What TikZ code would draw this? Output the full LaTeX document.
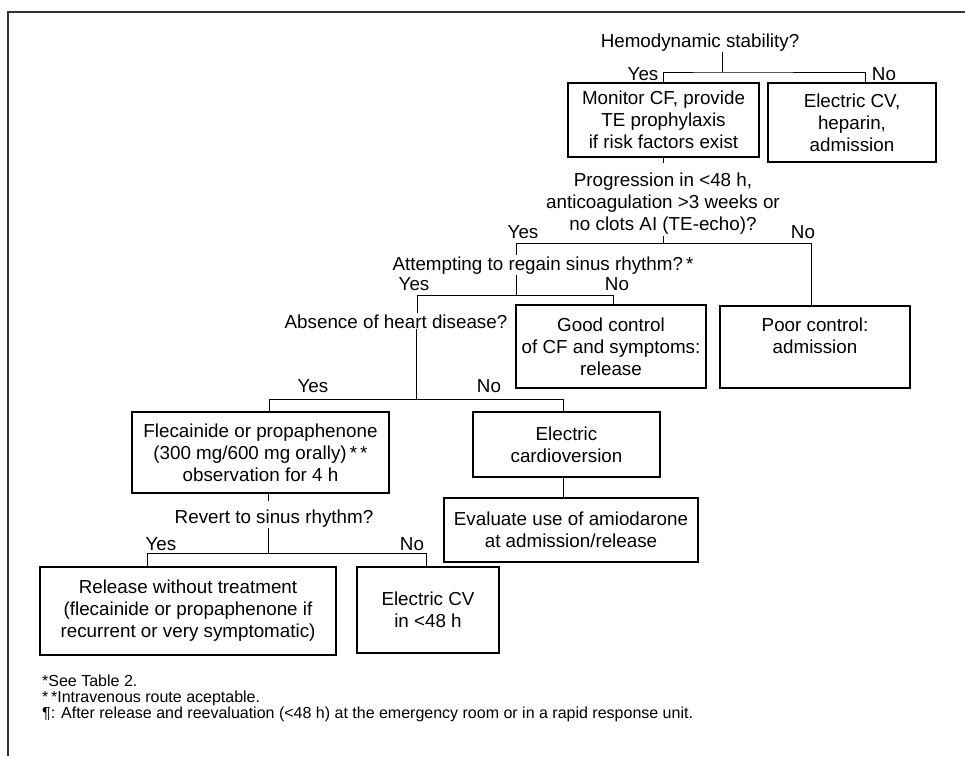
\documentclass[tikz,border=0pt]{standalone}
\usepackage{fontspec}
\setmainfont{Liberation Sans}

\begin{document}
\begin{tikzpicture}[x=1pt, y=-1pt,
    box/.style={rectangle, draw, line width=1.2pt, align=center, inner sep=2pt, font=\fontsize{18.8}{22}\selectfont},
    ask/.style={align=center, inner sep=1pt, font=\fontsize{18.8}{22}\selectfont},
    lbl/.style={inner sep=0pt, anchor=base, font=\fontsize{18.8}{22}\selectfont},
    link/.style={line width=1pt}]
    \useasboundingbox (0,0) rectangle (965,756);
    \draw[line width=1.4pt, black!80] (8,756) -- (8,12) -- (965,12);

    % first question
    \node (stab) [ask, anchor=base] at (700,47) {Hemodynamic stability?};
    \node (stabY) [lbl] at (643,80) {Yes};
    \node (stabN) [lbl] at (884,80) {No};
    \node (mon) [box, minimum width=191, minimum height=74] at (663.5,120) {Monitor CF, provide\\TE prophylaxis\\if risk factors exist};
    \node (ecv) [box, minimum width=168, minimum height=79] at (852,122.5) {Electric CV,\\heparin,\\admission};

    % second question
    \node (prog) [ask] at (663,204) {Progression in <48 h,\\anticoagulation >3 weeks or\\no clots AI (TE-echo)?};
    \node (progY) [lbl] at (523,238) {Yes};
    \node (progN) [lbl] at (803,238) {No};
    \node (att) [ask, anchor=base] at (543,270) {Attempting to regain sinus rhythm?\,*};
    \node (poor) [box, minimum width=190, minimum height=82] at (815,347) {Poor control:\\admission\\~};

    % third question
    \node (attY) [lbl] at (414,290) {Yes};
    \node (attN) [lbl] at (617,290) {No};
    \node (abs) [ask, anchor=base] at (396,328) {Absence of heart disease?};
    \node (good) [box, minimum width=190, minimum height=83] at (611,346.5) {Good control\\of CF and symptoms:\\release};

    % fourth question
    \node (absY) [lbl] at (313,392) {Yes};
    \node (absN) [lbl] at (489,392) {No};
    \node (flec) [box, minimum width=257, minimum height=81] at (260.5,452.5) {Flecainide or propaphenone\\(300 mg/600 mg orally)\,*\,*\\observation for 4 h};
    \node (card) [box, minimum width=187, minimum height=65] at (566.5,444.5) {Electric\\cardioversion};
    \node (amio) [box, minimum width=254, minimum height=64] at (571,530) {Evaluate use of amiodarone\\at admission/release};

    % last question
    \node (rev) [ask, anchor=base] at (274,523) {Revert to sinus rhythm?};
    \node (revY) [lbl] at (161,550) {Yes};
    \node (revN) [lbl] at (412,550) {No};
    \node (rel) [box, minimum width=296, minimum height=88] at (188,611) {Release without treatment\\(flecainide or propaphenone if\\recurrent or very symptomatic)};
    \node (ecvb) [box, minimum width=142, minimum height=86] at (428,610) {Electric CV\\in <48 h};

    \node (notes) [align=left, inner sep=0pt, anchor=north west, font=\fontsize{16}{16}\selectfont] at (42,675) {*See Table 2.\\*\,*Intravenous route aceptable.\\¶: After release and reevaluation (<48 h) at the emergency room or in a rapid response unit.};

    % junctions
    \coordinate (s0) at (722,72);
    \coordinate (s1) at (865,72);
    \coordinate (m1) at (663.5,163);
    \coordinate (p0) at (663,243);
    \coordinate (p1) at (811,243);
    \coordinate (p2) at (516,243);
    \coordinate (a0) at (516,295);
    \coordinate (a1) at (417,295);
    \coordinate (a2) at (613,295);
    \coordinate (h0) at (416,399);
    \coordinate (h1) at (269,399);
    \coordinate (h2) at (563,399);
    \coordinate (f1) at (268,501);
    \coordinate (r0) at (268,553);
    \coordinate (r1) at (147,553);
    \coordinate (r2) at (426,553);

    \draw[link] (stab.south -| s0) -- (s0);
    \draw[link] (mon.north) |- (s0) -| (s1 |- ecv.north);
    \draw[link] (mon.south) -- (m1);
    \draw[link] (prog.south -| p0) -- (p0);
    \draw[link] (att.north -| p2) -- (p2) -- (p1) -- (p1 |- poor.north);
    \draw[link] (att.south -| a0) -- (a0);
    \draw[link] (abs.north -| a1) -- (a1) -- (a2) -- (a2 |- good.north);
    \draw[link] (abs.south -| h0) -- (h0);
    \draw[link] (flec.north -| h1) -- (h1) -- (h2) -- (h2 |- card.north);
    \draw[link] (card.south -| h2) -- (h2 |- amio.north);
    \draw[link] (flec.south -| f1) -- (f1);
    \draw[link] (rev.south -| r0) -- (r0);
    \draw[link] (rel.north -| r1) -- (r1) -- (r2) -- (r2 |- ecvb.north);
\end{tikzpicture}
\end{document}
